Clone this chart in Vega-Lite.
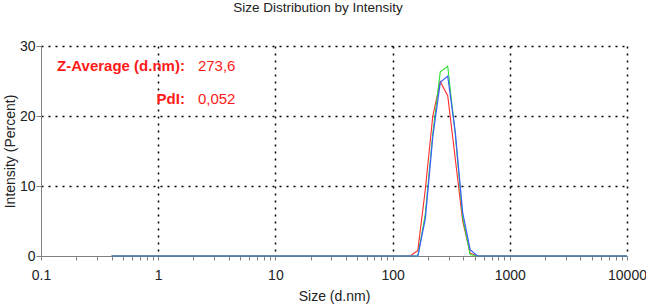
{
  "$schema": "https://vega.github.io/schema/vega-lite/v6.json",
  "width": 586,
  "height": 210,
  "autosize": "none",
  "padding": {"left": 41, "top": 46, "right": 19, "bottom": 50},
  "background": "white",
  "title": {
    "text": "Size Distribution by Intensity",
    "font": "Liberation Sans",
    "fontSize": 13.5,
    "fontWeight": "normal",
    "color": "#222222",
    "offset": 25,
    "dx": -16
  },
  "config": {"view": {"stroke": null}, "font": "Liberation Sans"},
  "datasets": {
    "dls": [
      {"size": 0.4, "r": 0, "g": 0, "b": 0},
      {"size": 0.4632, "r": 0, "g": 0, "b": 0},
      {"size": 0.5365, "r": 0, "g": 0, "b": 0},
      {"size": 0.6213, "r": 0, "g": 0, "b": 0},
      {"size": 0.7195, "r": 0, "g": 0, "b": 0},
      {"size": 0.8332, "r": 0, "g": 0, "b": 0},
      {"size": 0.9649, "r": 0, "g": 0, "b": 0},
      {"size": 1.117, "r": 0, "g": 0, "b": 0},
      {"size": 1.294, "r": 0, "g": 0, "b": 0},
      {"size": 1.499, "r": 0, "g": 0, "b": 0},
      {"size": 1.736, "r": 0, "g": 0, "b": 0},
      {"size": 2.01, "r": 0, "g": 0, "b": 0},
      {"size": 2.328, "r": 0, "g": 0, "b": 0},
      {"size": 2.696, "r": 0, "g": 0, "b": 0},
      {"size": 3.122, "r": 0, "g": 0, "b": 0},
      {"size": 3.615, "r": 0, "g": 0, "b": 0},
      {"size": 4.187, "r": 0, "g": 0, "b": 0},
      {"size": 4.849, "r": 0, "g": 0, "b": 0},
      {"size": 5.615, "r": 0, "g": 0, "b": 0},
      {"size": 6.503, "r": 0, "g": 0, "b": 0},
      {"size": 7.531, "r": 0, "g": 0, "b": 0},
      {"size": 8.721, "r": 0, "g": 0, "b": 0},
      {"size": 10.1, "r": 0, "g": 0, "b": 0},
      {"size": 11.7, "r": 0, "g": 0, "b": 0},
      {"size": 13.54, "r": 0, "g": 0, "b": 0},
      {"size": 15.69, "r": 0, "g": 0, "b": 0},
      {"size": 18.17, "r": 0, "g": 0, "b": 0},
      {"size": 21.04, "r": 0, "g": 0, "b": 0},
      {"size": 24.36, "r": 0, "g": 0, "b": 0},
      {"size": 28.21, "r": 0, "g": 0, "b": 0},
      {"size": 32.67, "r": 0, "g": 0, "b": 0},
      {"size": 37.84, "r": 0, "g": 0, "b": 0},
      {"size": 43.82, "r": 0, "g": 0, "b": 0},
      {"size": 50.75, "r": 0, "g": 0, "b": 0},
      {"size": 58.77, "r": 0, "g": 0, "b": 0},
      {"size": 68.06, "r": 0, "g": 0, "b": 0},
      {"size": 78.82, "r": 0, "g": 0, "b": 0},
      {"size": 91.28, "r": 0, "g": 0, "b": 0},
      {"size": 105.7, "r": 0, "g": 0, "b": 0},
      {"size": 122.4, "r": 0, "g": 0, "b": 0},
      {"size": 141.8, "r": 0, "g": 0, "b": 0},
      {"size": 164.2, "r": 0.8, "g": 0, "b": 0},
      {"size": 190.1, "r": 9.5, "g": 6.0, "b": 5.3},
      {"size": 220.2, "r": 20.0, "g": 17.5, "b": 17.0},
      {"size": 255.0, "r": 24.9, "g": 26.3, "b": 24.8},
      {"size": 295.3, "r": 22.9, "g": 27.1, "b": 25.7},
      {"size": 342.0, "r": 14.0, "g": 17.5, "b": 17.8},
      {"size": 396.1, "r": 5.0, "g": 5.5, "b": 6.2},
      {"size": 458.7, "r": 0.4, "g": 0.2, "b": 0.9},
      {"size": 531.2, "r": 0, "g": 0, "b": 0},
      {"size": 615.1, "r": 0, "g": 0, "b": 0},
      {"size": 712.4, "r": 0, "g": 0, "b": 0},
      {"size": 825.0, "r": 0, "g": 0, "b": 0},
      {"size": 955.4, "r": 0, "g": 0, "b": 0},
      {"size": 1106, "r": 0, "g": 0, "b": 0},
      {"size": 1281, "r": 0, "g": 0, "b": 0},
      {"size": 1484, "r": 0, "g": 0, "b": 0},
      {"size": 1718, "r": 0, "g": 0, "b": 0},
      {"size": 1990, "r": 0, "g": 0, "b": 0},
      {"size": 2305, "r": 0, "g": 0, "b": 0},
      {"size": 2669, "r": 0, "g": 0, "b": 0},
      {"size": 3091, "r": 0, "g": 0, "b": 0},
      {"size": 3580, "r": 0, "g": 0, "b": 0},
      {"size": 4145, "r": 0, "g": 0, "b": 0},
      {"size": 4801, "r": 0, "g": 0, "b": 0},
      {"size": 5560, "r": 0, "g": 0, "b": 0},
      {"size": 6439, "r": 0, "g": 0, "b": 0},
      {"size": 7456, "r": 0, "g": 0, "b": 0},
      {"size": 8635, "r": 0, "g": 0, "b": 0},
      {"size": 10000, "r": 0, "g": 0, "b": 0}
    ],
    "notes": [
      {"size": 1.69, "intensity": 27.1, "label": "Z-Average (d.nm):", "value": "273,6"},
      {"size": 1.69, "intensity": 22.5, "label": "PdI:", "value": "0,052"}
    ]
  },
  "layer": [
    {
      "data": {"name": "dls"},
      "mark": {"type": "line", "color": "#ff2a2a", "strokeWidth": 1.1},
      "encoding": {
        "x": {
          "field": "size",
          "type": "quantitative",
          "scale": {"type": "log", "domain": [0.1, 10000], "nice": false},
          "title": "Size (d.nm)",
          "axis": {
            "values": [0.1, 0.2, 0.3, 0.4, 0.5, 0.6, 0.7, 0.8, 0.9, 1, 2, 3, 4, 5, 6, 7, 8, 9, 10, 20, 30, 40, 50, 60, 70, 80, 90, 100, 200, 300, 400, 500, 600, 700, 800, 900, 1000, 2000, 3000, 4000, 5000, 6000, 7000, 8000, 9000, 10000],
            "format": "~g",
            "labelExpr": "indexof([0.1, 1, 10, 100, 1000, 10000], datum.value) >= 0 ? datum.label : ''",
            "labelOverlap": false,
            "labelFlush": false,
            "labelFontSize": 14,
            "labelColor": "#222222",
            "labelPadding": 8,
            "tickSize": 4,
            "tickColor": "#808080",
            "domainColor": "#808080",
            "grid": true,
            "gridColor": "#000000",
            "gridDash": [2, 5],
            "gridWidth": 1.5,
            "gridOpacity": {"condition": {"test": "indexof([1, 10, 100, 1000, 10000], datum.value) >= 0", "value": 1}, "value": 0},
            "titleFontSize": 14,
            "titleFontWeight": "normal",
            "titleColor": "#222222",
            "titlePadding": 7
          }
        },
        "y": {
          "field": "r",
          "type": "quantitative",
          "scale": {"domain": [0, 30], "nice": false},
          "title": "Intensity (Percent)",
          "axis": {
            "values": [0, 5, 10, 15, 20, 25, 30],
            "labelExpr": "datum.value % 10 == 0 ? datum.label : ''",
            "labelFontSize": 14,
            "labelColor": "#222222",
            "labelPadding": 1,
            "tickSize": 5,
            "tickColor": "#808080",
            "domainColor": "#808080",
            "grid": true,
            "gridColor": "#000000",
            "gridDash": [2, 5],
            "gridWidth": 1.5,
            "gridOpacity": {"condition": {"test": "datum.value % 10 == 0 && datum.value > 0", "value": 1}, "value": 0},
            "titleFontSize": 14,
            "titleFontWeight": "normal",
            "titleColor": "#222222",
            "titleX": -31,
            "titleY": 105,
            "titleAngle": -90,
            "titleAlign": "center",
            "titleBaseline": "middle"
          }
        }
      }
    },
    {
      "data": {"name": "dls"},
      "mark": {"type": "line", "color": "#2ee02e", "strokeWidth": 1.1},
      "encoding": {
        "x": {"field": "size", "type": "quantitative"},
        "y": {"field": "g", "type": "quantitative"}
      }
    },
    {
      "data": {"name": "dls"},
      "mark": {"type": "line", "color": "#3a5cff", "strokeWidth": 1.2},
      "encoding": {
        "x": {"field": "size", "type": "quantitative"},
        "y": {"field": "b", "type": "quantitative"}
      }
    },
    {
      "data": {"name": "notes"},
      "mark": {"type": "text", "align": "right", "baseline": "middle", "font": "Liberation Sans", "fontSize": 15, "fontWeight": "bold", "color": "#ff1a1a"},
      "encoding": {
        "x": {"field": "size", "type": "quantitative"},
        "y": {"field": "intensity", "type": "quantitative"},
        "text": {"field": "label"}
      }
    },
    {
      "data": {"name": "notes"},
      "mark": {"type": "text", "align": "left", "baseline": "middle", "dx": 13, "font": "Liberation Sans", "fontSize": 15, "fontWeight": "normal", "color": "#ff1a1a"},
      "encoding": {
        "x": {"field": "size", "type": "quantitative"},
        "y": {"field": "intensity", "type": "quantitative"},
        "text": {"field": "value"}
      }
    }
  ]
}
